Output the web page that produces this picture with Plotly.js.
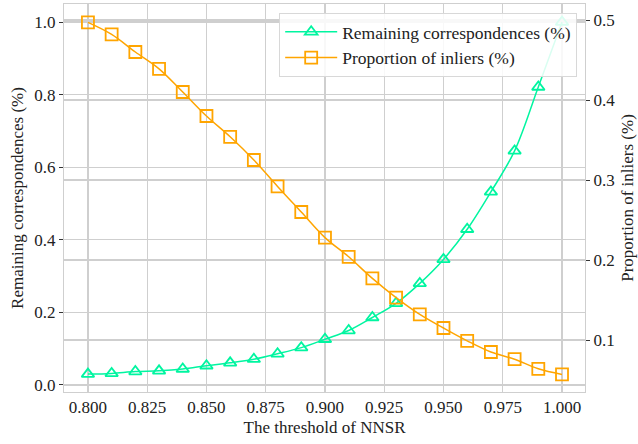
<!DOCTYPE html>
<html><head><meta charset="utf-8">
<script src="https://cdn.plot.ly/plotly-3.0.1.min.js"></script>
<style>html,body{margin:0;padding:0;background:#fff}</style>
</head><body><div id="chart" style="width:638px;height:444px"></div>
<script>
const thresholds = [0.80,0.81,0.82,0.83,0.84,0.85,0.86,0.87,0.88,0.89,0.90,0.91,0.92,0.93,0.94,0.95,0.96,0.97,0.98,0.99,1.00];
const remaining = [0.030,0.032,0.037,0.039,0.044,0.053,0.061,0.071,0.086,0.103,0.126,0.150,0.186,0.225,0.280,0.346,0.429,0.532,0.645,0.821,1.000];
const inliers = [0.497,0.482,0.460,0.439,0.410,0.380,0.354,0.325,0.292,0.260,0.228,0.204,0.177,0.153,0.132,0.115,0.099,0.085,0.076,0.064,0.057];
const xTicks = [0.800,0.825,0.850,0.875,0.900,0.925,0.950,0.975,1.000];

const FAM = 'Liberation Serif, Times New Roman, serif';
const font = {family:FAM, color:'#222', size:17};
const traces = [
  {x:thresholds, y:remaining, name:'Remaining correspondences (%)', yaxis:'y', mode:'lines+markers',
   line:{color:'#00f5a0', width:1.5, shape:'spline'},
   marker:{symbol:'triangle-up-open', size:11, color:'#00f5a0', line:{width:1.8}}},
  {x:thresholds, y:inliers, name:'Proportion of inliers (%)', yaxis:'y2', mode:'lines+markers',
   line:{color:'#ffa500', width:1.5, shape:'spline'},
   marker:{symbol:'square-open', size:12, color:'#ffa500', line:{width:1.8}}}
];
const layout = {
  width:638, height:444, margin:{l:64, r:53, t:4, b:52},
  paper_bgcolor:'#fff', plot_bgcolor:'#fff', font:font, showlegend:true,
  xaxis:{range:[0.7899,1.0097], tickvals:xTicks, ticktext:xTicks.map(v=>v.toFixed(3)),
    showgrid:true, gridcolor:'#cfcfcf', gridwidth:1.2, zeroline:false,
    showline:true, linecolor:'#cfcfcf', mirror:true, ticks:'', ticklen:0,
    title:{text:'The threshold of NNSR', font:{family:FAM, size:17}, standoff:4}, tickfont:{family:FAM, size:17}},
  yaxis:{range:[-0.0193,1.0496], tickvals:[0,0.2,0.4,0.6,0.8,1.0], ticktext:['0.0','0.2','0.4','0.6','0.8','1.0'],
    showgrid:true, gridcolor:'#cfcfcf', gridwidth:1.2, zeroline:false,
    showline:true, linecolor:'#cfcfcf', ticks:'outside', ticklen:4, tickcolor:'#333',
    title:{text:'Remaining correspondences (%)', font:{family:FAM, size:17}, standoff:6}, tickfont:{family:FAM, size:17}},
  yaxis2:{overlaying:'y', side:'right', range:[0.035,0.52], tickvals:[0.1,0.2,0.3,0.4,0.5],
    showgrid:true, gridcolor:'#cfcfcf', gridwidth:1.2, zeroline:false,
    showline:true, linecolor:'#cfcfcf', ticks:'outside', ticklen:4, tickcolor:'#333',
    title:{text:'Proportion of inliers (%)', font:{family:FAM, size:17}, standoff:6}, tickfont:{family:FAM, size:17}},
  legend:{x:0.985, y:0.977, xanchor:'right', yanchor:'top', bgcolor:'rgba(255,255,255,0.85)',
    bordercolor:'#d8d8d8', borderwidth:1, font:{family:FAM, size:17.5}, tracegroupgap:0, itemwidth:52}
};
Plotly.newPlot('chart', traces, layout, {displayModeBar:false, staticPlot:true});
</script></body></html>
